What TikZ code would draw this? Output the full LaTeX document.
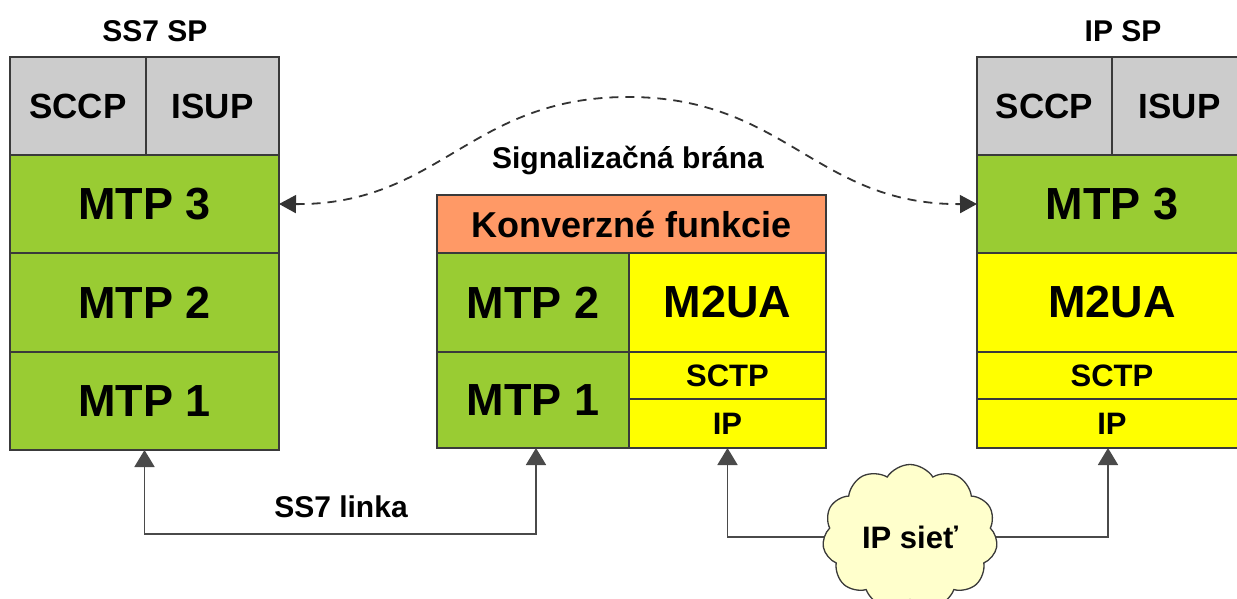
\documentclass[tikz,border=0pt]{standalone}
\usepackage{fontspec}
\setmainfont{Liberation Sans}
\usetikzlibrary{arrows.meta,shapes.symbols}
\pgfdeclarelayer{bg}
\pgfsetlayers{bg,main}
\definecolor{cgrey}{HTML}{CCCCCC}
\definecolor{cgreen}{HTML}{99CC33}
\definecolor{corange}{HTML}{FF9966}
\definecolor{cyellow}{HTML}{FFFF00}
\definecolor{ccloud}{HTML}{FFFFCC}
\definecolor{cborder}{HTML}{3A3A3A}
\definecolor{cline}{HTML}{4A4A4A}
\newcommand\fszBig{\fontsize{45}{48}\selectfont\bfseries}
\newcommand\fszMid{\fontsize{35}{40}\selectfont\bfseries}
\newcommand\fszKon{\fontsize{36}{40}\selectfont\bfseries}
\newcommand\fszSmall{\fontsize{31}{35}\selectfont\bfseries}
\newcommand\fszLab{\fontsize{30}{34}\selectfont\bfseries}
\begin{document}
\begin{tikzpicture}[x=1pt,y=-1pt,
  cell/.style={draw=cborder, line width=1.5pt, inner sep=0pt, outer sep=0pt},
  greycell/.style={cell, fill=cgrey, font=\fszMid},
  greencell/.style={cell, fill=cgreen, font=\fszBig},
  yellowcell/.style={cell, fill=cyellow, font=\fszBig},
  smallcell/.style={cell, fill=cyellow, font=\fszSmall},
  lab/.style={inner sep=0pt, font=\fszLab},
  tip/.style={Triangle[length=17pt,width=20pt]},
  conn/.style={draw=cline, line width=1.8pt, -{Triangle[length=17pt,width=20pt]}},
  dconn/.style={draw=black!80, line width=1.8pt, dash pattern=on 9pt off 7pt,
    {Triangle[length=17pt,width=18pt]}-{Triangle[length=17pt,width=18pt]}}]
\useasboundingbox (0,0) rectangle (1237,599);
\clip (0,0) rectangle (1237,599);
\begin{pgfonlayer}{bg}
\fill[white] (0,0) rectangle (1237,599);
\end{pgfonlayer}
% left stack
\node[greycell, minimum width=136pt, minimum height=98pt] (lsccp) at (78,106) {SCCP};
\node[greycell, minimum width=133pt, minimum height=98pt] (lisup) at (212.5,106) {ISUP};
\node[greencell, minimum width=269pt, minimum height=98pt] (lmtp3) at (144.5,204) {MTP 3};
\node[greencell, minimum width=269pt, minimum height=99pt] (lmtp2) at (144.5,302.5) {MTP 2};
\node[greencell, minimum width=269pt, minimum height=98pt] (lmtp1) at (144.5,401) {MTP 1};
\node[lab] (ltitle) at (155,31) {SS7 SP};
% middle stack
\node[cell, fill=corange, font=\fszKon, minimum width=389pt, minimum height=58pt] (konv) at (631.5,224) {Konverzné funkcie};
\node[greencell, minimum width=192pt, minimum height=99pt] (mmtp2) at (533,302.5) {MTP 2};
\node[greencell, minimum width=192pt, minimum height=96pt] (mmtp1) at (533,400) {MTP 1};
\node[yellowcell, minimum width=197pt, minimum height=99pt] (mm2ua) at (727.5,302.5) {M2UA};
\node[smallcell, minimum width=197pt, minimum height=47pt] (msctp) at (727.5,375.5) {SCTP};
\node[smallcell, minimum width=197pt, minimum height=49pt] (mip) at (727.5,423.5) {IP};
\node[lab] (mtitle) at (628,160) {Signalizačná brána};
% right stack
\node[greycell, minimum width=135pt, minimum height=98pt] (rsccp) at (1044.5,106) {SCCP};
\node[greycell, minimum width=135pt, minimum height=98pt] (risup) at (1179.5,106) {ISUP};
\node[greencell, minimum width=270pt, minimum height=98pt] (rmtp3) at (1112,204) {MTP 3};
\node[yellowcell, minimum width=270pt, minimum height=99pt] (rm2ua) at (1112,302.5) {M2UA};
\node[smallcell, minimum width=270pt, minimum height=47pt] (rsctp) at (1112,375.5) {SCTP};
\node[smallcell, minimum width=270pt, minimum height=49pt] (rip) at (1112,423.5) {IP};
\node[lab] (rtitle) at (1123,31) {IP SP};
% cloud
\node[cloud, cloud puffs=11, cloud puff arc=115, aspect=1.2, draw=cborder, line width=1.3pt,
  fill=ccloud, minimum width=175pt, minimum height=145pt, inner sep=0pt, font=\fszSmall] (cloud) at (910,537) {IP sieť};
% connectors
\coordinate (ss7y) at (0,534);
\draw[conn, {Triangle[length=17pt,width=20pt]}-{Triangle[length=17pt,width=20pt]}]
  (lmtp1.south) |- ([xshift=3pt]mmtp1.south |- ss7y) -- ([xshift=3pt]mmtp1.south);
\node[lab] (ss7lab) at (341,507) {SS7 linka};
\begin{pgfonlayer}{bg}
\draw[conn] (cloud.center) -| (mip.south);
\draw[conn] (cloud.center) -| ([xshift=-4pt]rip.south);
\end{pgfonlayer}
\draw[dconn] (lmtp3.east) .. controls (440,205) and (470,97) .. (628,97)
  .. controls (786,97) and (816,205) .. (rmtp3.west);
\end{tikzpicture}
\end{document}
